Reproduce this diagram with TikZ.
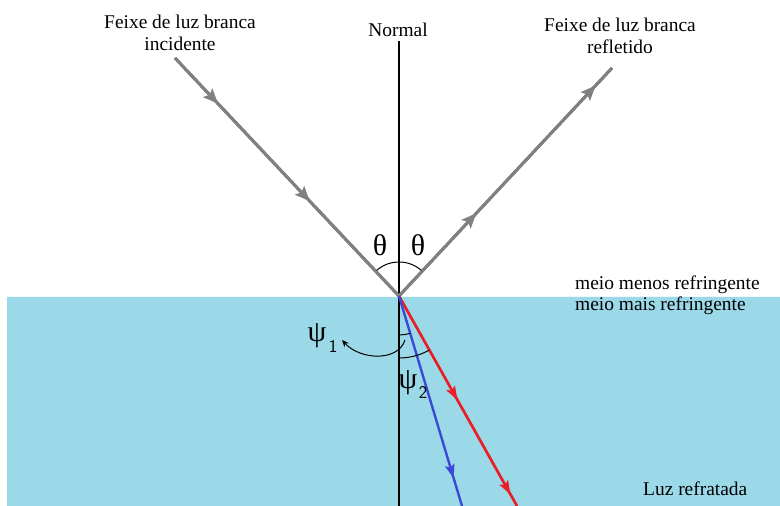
\documentclass[tikz,border=0pt]{standalone}
\usepackage{fontspec}
\setmainfont{Liberation Serif}
\usetikzlibrary{decorations.markings,arrows.meta}
\definecolor{water}{RGB}{155,216,232}
\definecolor{raygray}{RGB}{128,128,128}
\definecolor{rayred}{RGB}{235,30,40}
\definecolor{rayblue}{RGB}{60,72,215}
\tikzset{
  lbl/.style={font=\fontsize{19.5}{22}\selectfont, inner sep=0pt, align=center},
  greek/.style={font=\fontsize{30}{32}\selectfont, inner sep=0pt},
  subs/.style={font=\sffamily\fontsize{18}{20}\selectfont, inner sep=0pt},
  tipmark/.style={decoration={markings, mark=at position #1 with {\fill (7,0) -- (-8,6.5) -- (-5,0) -- (-8,-6.5) -- cycle;}}, postaction=decorate},
  thintip/.style={decoration={markings, mark=at position #1 with {\fill (6,0) -- (-8,5) -- (-5,0) -- (-8,-5) -- cycle;}}, postaction=decorate},
  whiteray/.style={color=raygray, line width=3bp},
  redray/.style={color=rayred, line width=2.4bp},
  blueray/.style={color=rayblue, line width=2.4bp},
  anglearc/.style={draw=black, line width=1bp}
}
\begin{document}
\begin{tikzpicture}[x=1bp,y=-1bp]
\useasboundingbox (0,0) rectangle (780,506);
\fill[water] (7,296) rectangle (780,506);
\draw[white!85!water, line width=1bp] (7,296.5) -- (780,296.5);

\coordinate (O) at (399,296);
\coordinate (Inc) at (175,58);
\coordinate (Ref) at (612,68);
\coordinate (RedEnd) at (517,506);
\coordinate (BlueEnd) at (462,506);
\coordinate (NBot) at (399,506);

\node[lbl] (normal) at (398,30) {Normal};
\node[lbl] (inclbl) at (180,33) {Feixe de luz branca\\incidente};
\node[lbl] (reflbl) at (620,36) {Feixe de luz branca\\refletido};
\node[lbl, anchor=west] (menos) at (575,285) {meio menos refringente};
\node[lbl, anchor=west] (mais) at (575,306) {meio mais refringente};
\node[lbl, anchor=west] (luz) at (643,489) {Luz refratada};

\draw[black, line width=1.1bp] (399,41) -- (NBot);

\draw[whiteray, tipmark=0.17] (Inc) -- (O);
\draw[whiteray, tipmark=0.58] (Inc) -- (O);
\draw[whiteray, tipmark=0.34] (O) -- (Ref);
\draw[whiteray, tipmark=0.90] (O) -- (Ref);

\draw[redray, thintip=0.47] (O) -- (RedEnd);
\draw[redray, thintip=0.92] (O) -- (RedEnd);
\draw[blueray, thintip=0.84] (O) -- (BlueEnd);

% theta arc
\draw[anglearc] (O) ++(-131:34) arc[start angle=-131, end angle=-49, radius=34];
\node[greek] (th1) at (380,245) {θ};
\node[greek] (th2) at (418,245) {θ};

% psi arcs
\draw[anglearc] (O) ++(90:39) arc[start angle=90, end angle=73.3, radius=39];
\draw[anglearc] (O) ++(90:62) arc[start angle=90, end angle=60.7, radius=62];

\coordinate (cstart) at (405,340);
\coordinate (cend) at (342,340);
\draw[black, line width=1bp, -{Stealth[length=7bp,width=6bp]}] (cstart) .. controls (398,362) and (360,360) .. (cend);

\node[greek] (psi1) at (317,336) {ψ};
\node[subs] (s1) at (333,346) {1};
\node[greek] (psi2) at (408,383) {ψ};
\node[subs] (s2) at (423,392) {2};
\end{tikzpicture}
\end{document}
